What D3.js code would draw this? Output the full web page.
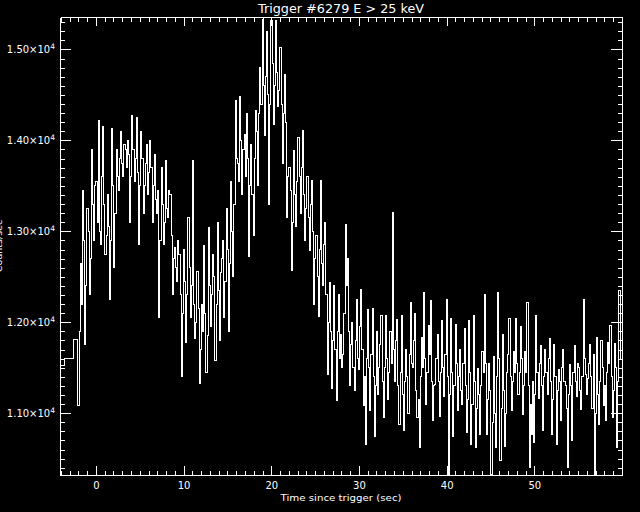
<!DOCTYPE html>
<html>
<head>
<meta charset="utf-8">
<script src="https://cdn.jsdelivr.net/npm/d3@7"></script>
<style>
  body { margin: 0; background: #000; }
  svg text { font-family: "DejaVu Sans", sans-serif; fill: #fff; }
</style>
</head>
<body>
<div id="chart"></div>
<script>
// pre-trigger coarse bins (start times, sec) and their rates
let coarseTimes = [-4.608, -3.584, -2.56];
let coarseRates = [11520, 11600, 11810];

// fine bins start at -2.048 s, 0.128 s wide
let fineStart = -2.048, fineWidth = 0.128;
let fineRates = [
    11080, 11900, 12650, 12200, 13450, 12900, 11750, 12400, 13250, 13000, 12300, 12700, 13900, 13300, 12900, 13500,
    13550, 13100, 14220, 13000, 12850, 13600, 14150, 13300, 12750, 12950, 13400, 13050, 12250, 12900, 14130, 13500,
    12600, 13200, 13900, 13600, 13450, 13800, 14100, 13750, 13600, 13950, 13900, 13700, 14000, 13850, 13100, 13600,
    14270, 13900, 13550, 13800, 14250, 13650, 12850, 13500, 14100, 13800, 13200, 13500, 13750, 13950, 13400, 13650,
    14000, 13700, 13100, 13500, 13850, 13350, 13200, 13450, 12050, 12900, 13700, 13300, 12850, 13100, 13780, 13250,
    13150, 13450, 13400, 12950, 12300, 12700, 12820, 12600, 12450, 12900, 12750, 12300, 11400, 12100, 12800, 12450,
    11780, 12300, 13150, 12600, 12050, 12400, 13780, 12200, 11820, 12000, 12560, 12150, 11330, 11700, 12200, 11900,
    12840, 12100, 11450, 11850, 13040, 12400, 11950, 12300, 12750, 12500, 11580, 12200, 13100, 12350, 11800, 12550,
    12700, 12900, 12050, 12450, 13250, 12800, 11900, 12650, 13550, 13000, 12500, 13300, 14440, 13800, 13750, 13550,
    14480, 14000, 13400, 13900, 14070, 13600,
    14300, 13800, 12720, 13500, 13960, 13400, 12950, 13800, 14330, 14100, 13500, 14300, 14800, 14400, 15330, 14600,
    14050, 14700, 15200, 14500, 13300, 14400, 15320, 14850, 14180, 14600, 15320, 14750, 14370, 14550, 15020, 14400,
    13750, 14300, 14730, 14200, 13150, 13600, 13700, 13450, 12570, 13100, 13890, 13400, 13050, 13550, 14030, 13600,
    13200, 13700, 14110, 13400, 12900, 13250, 13600, 13150, 12790, 13300, 13560, 13000, 12200, 12700, 12950, 12500,
    12060, 12800, 13560, 12650, 12400, 12850, 13100, 12300, 11430, 12000, 12440, 11900, 11270, 11800, 12400, 11700,
    11140, 11900, 12300, 11600,
    11870, 11500, 11650, 12100, 13080, 12400, 12700, 11900, 11300, 11750, 12000, 11500, 11250, 11800, 12250, 11600,
    11480, 11950, 12360, 11700, 11080, 11400, 10650, 11600, 12140, 11500, 11030, 11650, 12150, 11400, 10740, 11300,
    11900, 11200, 11500, 11750, 12070, 11350, 10950, 11500, 12070, 11600, 11150, 11450, 11900, 11550, 13210, 11700,
    11350, 11800, 12030, 11300, 10870, 11450, 12070, 11200, 10810, 11350, 11700, 11400, 11000, 11650, 12220, 11550,
    11500, 11800, 12100, 11250, 10950, 11150, 10620, 11400, 11830, 11500, 12330, 11600, 11100, 11450, 11960, 11650,
    12240, 11350, 10920, 11300,
    11320, 11600, 11870, 11350, 10960, 11450, 12020, 11500, 11180, 11650, 12250, 11400, 10330, 11200, 12040, 11450,
    10740, 11300, 11980, 11550, 11030, 11400, 11700, 11250, 11100, 11550, 11930, 11300, 10790, 11150, 12020, 11450,
    10660, 11100, 12070, 11350, 10620, 11050, 11490, 11200, 10770, 11300, 11680, 11450, 12310, 11550, 10770, 11150,
    11550, 11250, 10330, 10900, 11620, 11000, 10620, 11400, 12330, 11600, 10480, 11050, 11870, 11250, 10630, 11000,
    11450, 11650, 12040, 11400, 11030, 11350, 11680, 11450, 12040, 11550, 11210, 11450, 11950, 11600, 10990, 11300,
    11680, 11450, 12220, 11300, 10400, 11100,
    10770, 11350, 10680, 11200, 12070, 11450, 11160, 11550, 11740, 11300, 10810, 11400, 11700, 11450, 11200, 11600,
    11820, 11350, 10770, 11150, 11760, 11400, 10660, 11250, 11480, 11350, 10920, 11500, 11700, 11350, 11300, 11050,
    10400, 11200, 11530, 11300, 10700, 11450, 11740, 11350, 11180, 11550, 11500, 11250, 11040, 11400, 12250, 11600,
    11430, 11200, 11380, 11550, 11760, 11400, 11050, 11650, 10330, 11000, 11830, 11200, 10880, 11350, 11800, 11500,
    11080, 11300, 10920, 11450, 11780, 11550, 11960, 11400, 10950, 11250, 11770, 11500, 10620, 11350, 12350, 11600
];

let xDomain = [-4.096, 60];
let yDomain = [10320, 15357];
let xMajor = [0, 10, 20, 30, 40, 50];
let yMajor = [11000, 12000, 13000, 14000, 15000];
let yTickLabels = ["1.10", "1.20", "1.30", "1.40", "1.50"];

let titleText = "Trigger #6279 E > 25 keV";
let xTitle = "Time since trigger (sec)";
let yTitle = "Counts/sec";

let margin = { top: 17, right: 18, bottom: 37, left: 60 },
    width = 640 - margin.left - margin.right,
    height = 512 - margin.top - margin.bottom;

let svg = d3.select("#chart")
    .append("svg")
    .attr("width", width + margin.left + margin.right)
    .attr("height", height + margin.top + margin.bottom)
    .style("background", "#000")
    .style("display", "block")
    .append("g")
    .attr("transform", "translate(" + margin.left + "," + margin.top + ")");

let x = d3.scaleLinear().domain(xDomain).range([0, width]);
let y = d3.scaleLinear().domain(yDomain).range([height, 0]);

// build step points from bins
let points = [];
coarseTimes.forEach(function (t, i) { points.push([t, coarseRates[i]]); });
fineRates.forEach(function (v, i) { points.push([fineStart + i * fineWidth, v]); });
points.push([fineStart + fineRates.length * fineWidth, fineRates[fineRates.length - 1]]);

svg.append("defs").append("clipPath")
    .attr("id", "clip")
    .append("rect")
    .attr("width", width)
    .attr("height", height);

let line = d3.line()
    .x(function (d) { return x(d[0]); })
    .y(function (d) { return y(d[1]); })
    .curve(d3.curveStepAfter);

svg.append("path")
    .datum(points)
    .attr("clip-path", "url(#clip)")
    .attr("fill", "none")
    .attr("stroke", "#fff")
    .attr("stroke-width", 1)
    .attr("shape-rendering", "crispEdges")
    .attr("d", line);

// IDL style box: ticks inward on all four sides
let xMinor = d3.range(-4, 61, 1).filter(function (d) { return d % 10 !== 0; });
let yMinor = d3.range(10400, 15400, 100).filter(function (d) { return d % 1000 !== 0; });

function styleAxis(g) {
    g.style("color", "#fff")
        .attr("shape-rendering", "crispEdges");
}

// bottom
svg.append("g").attr("transform", "translate(0," + height + ")")
    .call(d3.axisBottom(x).tickValues(xMinor).tickSize(-4.5).tickSizeOuter(0).tickFormat(""))
    .call(styleAxis);
svg.append("g").attr("transform", "translate(0," + height + ")")
    .call(d3.axisBottom(x).tickValues(xMajor).tickSize(-9).tickSizeOuter(0).tickPadding(7).tickFormat(d3.format("d")))
    .call(styleAxis)
    .call(function (g) { g.select(".domain").remove(); })
    .selectAll("text")
    .attr("font-family", "DejaVu Sans, sans-serif")
    .attr("font-size", 10);

// top
svg.append("g")
    .call(d3.axisTop(x).tickValues(xMinor).tickSize(-4.5).tickSizeOuter(0).tickFormat(""))
    .call(styleAxis);
svg.append("g")
    .call(d3.axisTop(x).tickValues(xMajor).tickSize(-9).tickSizeOuter(0).tickFormat(""))
    .call(styleAxis)
    .call(function (g) { g.select(".domain").remove(); });

// left
svg.append("g")
    .call(d3.axisLeft(y).tickValues(yMinor).tickSize(-4.5).tickSizeOuter(0).tickFormat(""))
    .call(styleAxis);
let yAxisG = svg.append("g")
    .call(d3.axisLeft(y).tickValues(yMajor).tickSize(-11).tickSizeOuter(0).tickPadding(5)
        .tickFormat(function (d, i) { return yTickLabels[i] + "\u00d710"; }))
    .call(styleAxis)
    .call(function (g) { g.select(".domain").remove(); });
yAxisG.selectAll("text")
    .attr("font-family", "DejaVu Sans, sans-serif")
    .attr("font-size", 10)
    .append("tspan")
    .attr("dy", "-0.5em")
    .attr("font-size", 7.5)
    .text("4");

// right
svg.append("g").attr("transform", "translate(" + width + ",0)")
    .call(d3.axisRight(y).tickValues(yMinor).tickSize(-4.5).tickSizeOuter(0).tickFormat(""))
    .call(styleAxis);
svg.append("g").attr("transform", "translate(" + width + ",0)")
    .call(d3.axisRight(y).tickValues(yMajor).tickSize(-11).tickSizeOuter(0).tickFormat(""))
    .call(styleAxis)
    .call(function (g) { g.select(".domain").remove(); });

// titles
svg.append("text")
    .attr("x", width / 2)
    .attr("y", -4.5)
    .attr("text-anchor", "middle")
    .attr("font-size", 12)
    .attr("textLength", 166)
    .attr("lengthAdjust", "spacingAndGlyphs")
    .text(titleText);

svg.append("text")
    .attr("x", width / 2)
    .attr("y", height + 26)
    .attr("text-anchor", "middle")
    .attr("font-size", 9.5)
    .attr("textLength", 121)
    .attr("lengthAdjust", "spacingAndGlyphs")
    .text(xTitle);

// y title sits mostly off the left edge, as in the original
svg.append("text")
    .attr("transform", "translate(" + (2 - margin.left) + "," + (height / 2) + ") rotate(-90)")
    .attr("text-anchor", "middle")
    .attr("font-size", 9.5)
    .text(yTitle);
</script>
</body>
</html>
